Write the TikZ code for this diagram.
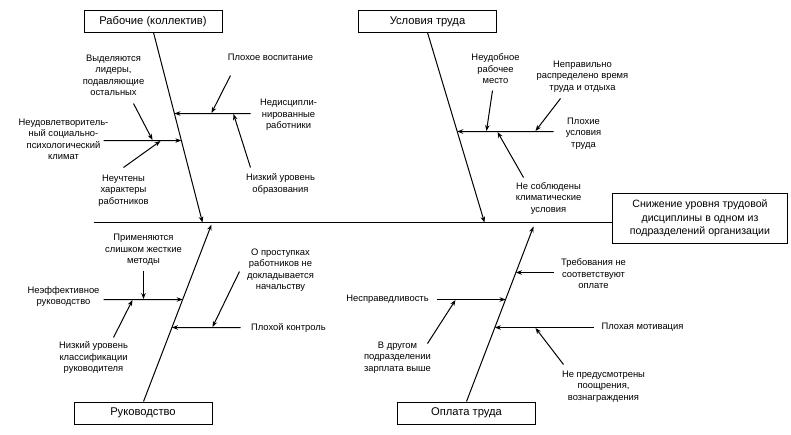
\documentclass[tikz,border=0pt]{standalone}
\usepackage{fontspec}
\setmainfont{Liberation Sans}
\usetikzlibrary{arrows.meta}
\begin{document}
\begin{tikzpicture}[x=1pt,y=-1pt,
  line width=1pt,
  lbl/.style={font={\fontsize{9.4}{11.5}\selectfont},align=center,inner sep=0pt},
  catbox/.style={draw,font={\fontsize{11.2}{13}\selectfont},minimum width=138pt,minimum height=22pt,inner sep=0pt},
  effbox/.style={draw,font={\fontsize{10.6}{13.5}\selectfont},align=center,minimum width=175pt,minimum height=50pt,inner sep=0pt},
  arr/.style={-{Stealth[length=6pt,width=4.5pt]}}]
\useasboundingbox (-0.5,-0.5) rectangle (790.5,433.5);

% effect and categories
\node[effbox] (eff) at (699.5,218) {Снижение уровня трудовой\\дисциплины в одном из\\подразделений организации};
\node[catbox] (rab) at (152.5,21) {Рабочие (коллектив)};
\node[catbox] (usl) at (427,21) {Условия труда};
\node[catbox] (ruk) at (142.5,412.5) {Руководство};
\node[catbox] (opl) at (466,412.5) {Оплата труда};

% spine
\coordinate (sp0) at (93,222);
\draw (sp0) -- (eff.west |- sp0);

% bones
\coordinate (b1s) at (153,32);  \coordinate (b1e) at (202,222);
\coordinate (b2s) at (427,32);  \coordinate (b2e) at (484,222);
\coordinate (b3s) at (143,401); \coordinate (b3e) at (211,224);
\coordinate (b4s) at (466,401); \coordinate (b4e) at (533,226);
\draw[arr] (b1s) -- (b1e);
\draw[arr] (b2s) -- (b2e);
\draw[arr] (b3s) -- (b3e);
\draw[arr] (b4s) -- (b4e);

% ---------- Рабочие ----------
\node[lbl] (t1) at (270,57) {Плохое воспитание};
\node[lbl] (t2) at (288,114.5) {Недисципли-\\нированные\\работники};
\node[lbl] (t3) at (280,183.5) {Низкий уровень\\образования};
\node[lbl] (t4) at (113,75) {Выделяются\\лидеры,\\подавляющие\\остальных};
\node[lbl] (t5) at (63,139) {Неудовлетворитель-\\ный социально-\\психологический\\климат};
\node[lbl] (t6) at (123,190) {Неучтены\\характеры\\работников};

\coordinate (h1s) at (250,113); \coordinate (h1a) at (0,113); \coordinate (h1b) at (1,113);
\coordinate (h1e) at (intersection of b1s--b1e and h1a--h1b);
\draw[arr] (h1s) -- (h1e);
\coordinate (h2s) at (103,140); \coordinate (h2a) at (0,140); \coordinate (h2b) at (1,140);
\coordinate (h2e) at (intersection of b1s--b1e and h2a--h2b);
\draw[arr] (h2s) -- (h2e);
\coordinate (a1s) at (230,75);  \coordinate (a1e) at (211,112.5);
\draw[arr] (a1s) -- (a1e);
\coordinate (a2s) at (250,167); \coordinate (a2e) at (233,113.5);
\draw[arr] (a2s) -- (a2e);
\coordinate (a3s) at (133,103); \coordinate (a3e) at (152,139.5);
\draw[arr] (a3s) -- (a3e);
\coordinate (a4s) at (123,167); \coordinate (a4e) at (160,140.5);
\draw[arr] (a4s) -- (a4e);

% ---------- Условия труда ----------
\node[lbl] (u1) at (495,68.5) {Неудобное\\рабочее\\место};
\node[lbl] (u2) at (582,76) {Неправильно\\распределено время\\труда и отдыха};
\node[lbl] (u3) at (583,133) {Плохие\\условия\\труда};
\node[lbl] (u4) at (548,198) {Не соблюдены\\климатические\\условия};

\coordinate (h3s) at (553,131); \coordinate (h3a) at (0,131); \coordinate (h3b) at (1,131);
\coordinate (h3e) at (intersection of b2s--b2e and h3a--h3b);
\draw[arr] (h3s) -- (h3e);
\coordinate (a5s) at (492,90);  \coordinate (a5e) at (486,130.5);
\draw[arr] (a5s) -- (a5e);
\coordinate (a6s) at (560,98);  \coordinate (a6e) at (535,130.5);
\draw[arr] (a6s) -- (a6e);
\coordinate (a7s) at (523,177); \coordinate (a7e) at (497,131.5);
\draw[arr] (a7s) -- (a7e);

% ---------- Руководство ----------
\node[lbl] (r1) at (143,249.5) {Применяются\\слишком жесткие\\методы};
\node[lbl] (r2) at (63,296) {Неэффективное\\руководство};
\node[lbl] (r3) at (93,357) {Низкий уровень\\классификации\\руководителя};
\node[lbl] (r4) at (280,269.5) {О проступках\\работников не\\докладывается\\начальству};
\node[lbl] (r5) at (288,327) {Плохой контроль};

\coordinate (h4s) at (103,299); \coordinate (h4a) at (0,299); \coordinate (h4b) at (1,299);
\coordinate (h4e) at (intersection of b3s--b3e and h4a--h4b);
\draw[arr] (h4s) -- (h4e);
\coordinate (h5s) at (240,327); \coordinate (h5a) at (0,327); \coordinate (h5b) at (1,327);
\coordinate (h5e) at (intersection of b3s--b3e and h5a--h5b);
\draw[arr] (h5s) -- (h5e);
\coordinate (a8s) at (143,270);  \coordinate (a8e) at (143,298.5);
\draw[arr] (a8s) -- (a8e);
\coordinate (a9s) at (113,337);  \coordinate (a9e) at (132,299.5);
\draw[arr] (a9s) -- (a9e);
\coordinate (a10s) at (239,271); \coordinate (a10e) at (212,326.5);
\draw[arr] (a10s) -- (a10e);

% ---------- Оплата труда ----------
\node[lbl] (o1) at (387,299) {Несправедливость};
\node[lbl] (o2) at (397,357) {В другом\\подразделении\\зарплата выше};
\node[lbl] (o3) at (593,273.5) {Требования не\\соответствуют\\оплате};
\node[lbl] (o4) at (642,327) {Плохая мотивация};
\node[lbl] (o5) at (603,386) {Не предусмотрены\\поощрения,\\вознаграждения};

\coordinate (h6s) at (436,299); \coordinate (h6a) at (0,299); \coordinate (h6b) at (1,299);
\coordinate (h6e) at (intersection of b4s--b4e and h6a--h6b);
\draw[arr] (h6s) -- (h6e);
\coordinate (h7s) at (553,272); \coordinate (h7a) at (0,272); \coordinate (h7b) at (1,272);
\coordinate (h7e) at (intersection of b4s--b4e and h7a--h7b);
\draw[arr] (h7s) -- (h7e);
\coordinate (h8s) at (593,327); \coordinate (h8a) at (0,327); \coordinate (h8b) at (1,327);
\coordinate (h8e) at (intersection of b4s--b4e and h8a--h8b);
\draw[arr] (h8s) -- (h8e);
\coordinate (a11s) at (427,343); \coordinate (a11e) at (455,299.5);
\draw[arr] (a11s) -- (a11e);
\coordinate (a12s) at (563,364); \coordinate (a12e) at (535,327.5);
\draw[arr] (a12s) -- (a12e);
\end{tikzpicture}
\end{document}
